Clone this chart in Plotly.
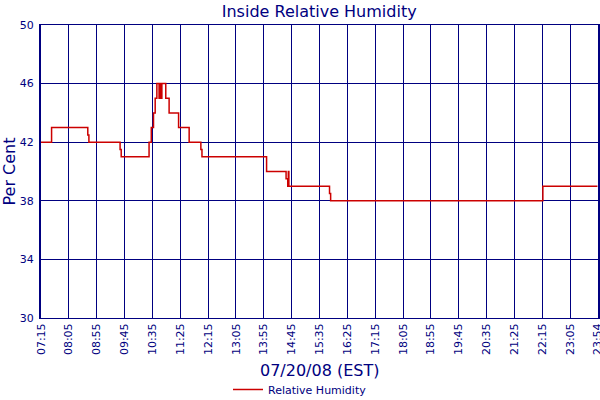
import plotly.graph_objects as go

# readings, 07/20/08 (EST)
times = ["07:15", "07:34", "08:39", "08:41", "09:37", "09:39", "10:29", "10:33",
         "10:37", "10:40", "10:43", "10:47", "10:49", "10:51", "10:52", "10:59",
         "11:05", "11:22", "11:41", "12:02", "12:04", "14:00", "14:35", "14:38",
         "14:39", "14:40", "15:53", "15:55", "22:16", "23:54"]
humidity = [42, 43, 42.5, 42, 41.5, 41, 42, 43,
            44, 45, 46, 45, 46, 45, 46, 45,
            44, 43, 42, 41.5, 41, 40, 39.5, 39,
            40, 39, 38.5, 38, 39, 39]

tick_labels = ["07:15", "08:05", "08:55", "09:45", "10:35", "11:25", "12:15",
               "13:05", "13:55", "14:45", "15:35", "16:25", "17:15", "18:05",
               "18:55", "19:45", "20:35", "21:25", "22:15", "23:05", "23:54"]
y_ticks = [30, 34, 38, 42, 46, 50]

day = "2008-07-20 "
navy = "#000080"
font = "DejaVu Sans"

fig = go.Figure()
fig.add_trace(go.Scatter(
    x=[day + t for t in times], y=humidity,
    mode="lines", line_shape="hv",
    line=dict(color="#cc0000", width=1.5),
    name="Relative Humidity",
))

fig.update_layout(
    width=600, height=400,
    margin=dict(l=41, r=2, t=25, b=82, autoexpand=False),
    paper_bgcolor="white", plot_bgcolor="white",
    font=dict(family=font, color=navy, size=11),
    title=dict(text="Inside Relative Humidity", x=0.532, xanchor="center",
               y=0.972, yanchor="middle", font=dict(size=16, color=navy)),
    showlegend=True,
    legend=dict(orientation="h", xref="container", x=0.5, xanchor="center",
                yref="paper", y=-0.244, yanchor="middle",
                font=dict(size=11, color=navy), itemwidth=30),
)

fig.update_xaxes(
    type="date", range=[day + "07:15", day + "23:55"],
    tickvals=[day + t for t in tick_labels], ticktext=tick_labels,
    tickangle=-90, tickfont=dict(size=11, color=navy),
    ticklabeloverflow="allow",
    showgrid=True, gridcolor=navy, gridwidth=1,
    showline=True, linecolor=navy, linewidth=1, mirror=True,
    ticks="", zeroline=False, automargin=False,
)
fig.update_yaxes(
    range=[30, 50], tickvals=y_ticks,
    tickfont=dict(size=11, color=navy), ticklabelstandoff=3,
    showgrid=True, gridcolor=navy, gridwidth=1,
    showline=True, linecolor=navy, linewidth=2, mirror=True,
    ticks="", zeroline=False, automargin=False,
)

fig.add_annotation(text="07/20/08 (EST)", xref="paper", yref="paper",
                   x=0.5, y=0, yshift=-52, yanchor="middle", showarrow=False,
                   font=dict(size=16, color=navy))
fig.add_annotation(text="Per Cent", xref="paper", yref="paper",
                   x=0, y=0.5, xanchor="center", xshift=-32, textangle=-90,
                   showarrow=False, font=dict(size=16, color=navy))

fig.write_html("out.html", config={"displayModeBar": False},
               post_script="document.body.style.margin='0';")
